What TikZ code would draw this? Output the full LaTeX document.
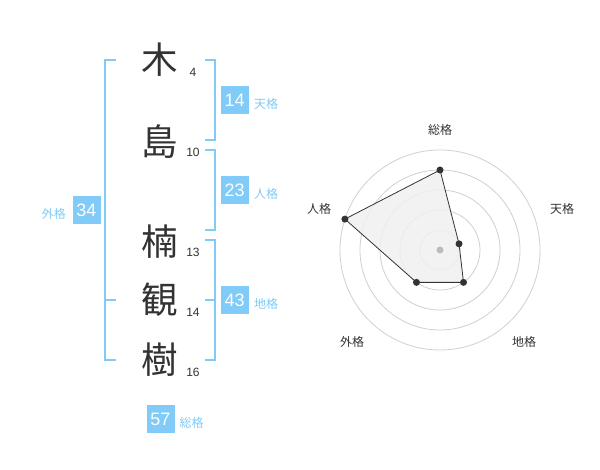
\documentclass[tikz,border=0pt]{standalone}
\usepackage{fontspec}
\setmainfont{Liberation Sans}
\newfontfamily\cjk{Noto Sans CJK JP}
\definecolor{ink}{HTML}{333333}
\definecolor{sky}{HTML}{80CBF8}
\definecolor{ring}{HTML}{D0D0D0}
\definecolor{area}{HTML}{F0F0F0}
\tikzset{
  kanji/.style={font=\cjk\fontsize{36.5}{36.5}\selectfont, text=ink, inner sep=0pt},
  strokes/.style={font=\fontsize{12}{12}\selectfont, text=ink, inner sep=0pt},
  valbox/.style={fill=sky, text=white, minimum width=28pt, minimum height=28pt, inner sep=0pt, font=\fontsize{18}{18}\selectfont},
  kaku/.style={font=\cjk\fontsize{12}{12}\selectfont, text=sky, inner sep=0pt},
  radlab/.style={font=\cjk\fontsize{12}{12}\selectfont, text=ink, inner sep=0pt},
  brack/.style={draw=sky, line width=2pt},
  ringline/.style={draw=ring, line width=0.8pt},
  dot/.style={circle, fill=ink, minimum size=7pt, inner sep=0pt},
}
\begin{document}
\begin{tikzpicture}[x=1pt, y=-1pt]
\useasboundingbox (0,0) rectangle (600,470);
\fill[white] (0,0) rectangle (600,470);
% kanji
\node[kanji] (k1) at (160,60) {木};
\node[kanji] (k2) at (160,142) {島};
\node[kanji] (k3) at (160,242) {楠};
\node[kanji] (k4) at (160,300) {観};
\node[kanji] (k5) at (160,360) {樹};
% stroke counts
\node[strokes] (s1) at (193,72.5) {4};
\node[strokes] (s2) at (193,152.5) {10};
\node[strokes] (s3) at (193,252.5) {13};
\node[strokes] (s4) at (193,312.5) {14};
\node[strokes] (s5) at (193,372.5) {16};
% brackets
\draw[brack] (116,60) -| (105,360) -- (116,360);
\draw[brack] (105,300) -- (116,300);
\draw[brack] (205,60) -| (215,140) -- (205,140);
\draw[brack] (205,150) -| (215,230) -- (205,230);
\draw[brack] (205,240) -| (215,360) -- (205,360);
\draw[brack] (205,300) -- (215,300);
% value boxes
\node[valbox] (b1) at (234.7,100) {14};
\node[kaku, anchor=west] (l1) at (254,104) {天格};
\node[valbox] (b2) at (234.7,190) {23};
\node[kaku, anchor=west] (l2) at (254,194) {人格};
\node[valbox] (b3) at (234.7,300) {43};
\node[kaku, anchor=west] (l3) at (254,304) {地格};
\node[valbox] (b4) at (86.5,210) {34};
\node[kaku, anchor=east] (l4) at (66,213.5) {外格};
\node[valbox] (b5) at (160.5,419) {57};
\node[kaku, anchor=west] (l5) at (179.5,422.5) {総格};
% radar
\coordinate (c) at (440,250);
\foreach \r in {20,40,60,80,100} \draw[ringline] (c) circle[radius=\r pt];
\coordinate (p1) at ([shift={(90:80pt)}]c);
\coordinate (p2) at ([shift={(18:20pt)}]c);
\coordinate (p3) at ([shift={(-54:40pt)}]c);
\coordinate (p4) at ([shift={(234:40pt)}]c);
\coordinate (p5) at ([shift={(162:100pt)}]c);
\filldraw[fill=area, fill opacity=0.85, draw=ink, line width=0.8pt] (p1) -- (p2) -- (p3) -- (p4) -- (p5) -- cycle;
\fill[ring!90!black] (c) circle[radius=3.5pt];
\foreach \p in {p1,p2,p3,p4,p5} \node[dot] at (\p) {};
\node[radlab] (r1) at (440,130) {総格};
\node[radlab] (r2) at (562,209) {天格};
\node[radlab] (r3) at (524,342) {地格};
\node[radlab] (r4) at (352,342) {外格};
\node[radlab] (r5) at (319,209) {人格};
\end{tikzpicture}
\end{document}
